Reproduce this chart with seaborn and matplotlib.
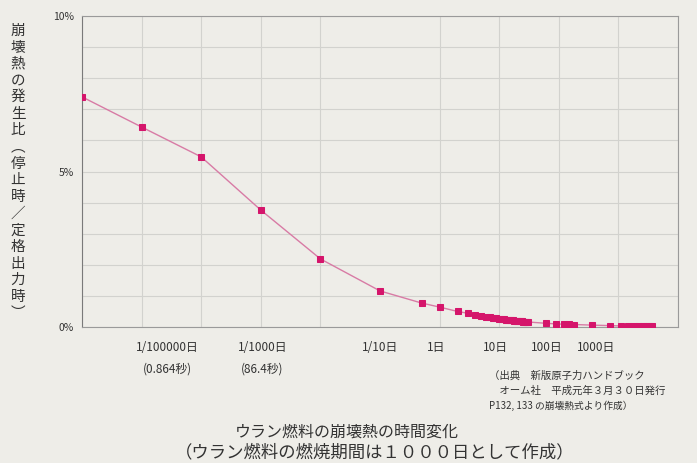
import matplotlib
matplotlib.use("Agg")
import matplotlib.pyplot as plt
import seaborn as sns
import pandas as pd
from matplotlib.ticker import FixedLocator, NullFormatter

# time after shutdown (days) and decay heat ratio (%)
days = [0.000001, 0.00001, 0.0001, 0.001, 0.01, 0.1, 0.5,
        1, 2, 3, 4, 5, 6, 7, 8, 9, 10,
        11, 12, 13, 14, 15, 16, 17, 18, 19, 20,
        21, 22, 23, 24, 25, 26, 27, 28, 29, 30,
        60, 90, 120, 150, 180,
        365, 730, 1095, 1460, 1825, 2190, 2555, 2920, 3285, 3650]
ratio = [7.40, 6.43, 5.47, 3.76, 2.19, 1.16, 0.77,
         0.64, 0.50, 0.44, 0.39, 0.35, 0.33, 0.31, 0.29, 0.28, 0.27,
         0.26, 0.25, 0.24, 0.23, 0.22, 0.215, 0.21, 0.205, 0.20, 0.195,
         0.19, 0.185, 0.18, 0.178, 0.175, 0.172, 0.17, 0.167, 0.165, 0.162,
         0.12, 0.10, 0.09, 0.085, 0.08,
         0.06, 0.045, 0.035, 0.03, 0.028, 0.025, 0.023, 0.022, 0.021, 0.02]

x_labels = ["1/100000日\n(0.864秒)", "1/1000日\n(86.4秒)", "1/10日", "1日",
            "10日", "100日", "1000日"]
x_label_at = [2.7e-5, 1.06e-3, 0.1, 0.89, 8.7, 63, 420]
decades = [1e-6, 1e-5, 1e-4, 1e-3, 1e-2, 1e-1, 1, 10, 100, 1000, 10000]
y_ticks = [0, 1, 2, 3, 4, 5, 6, 7, 8, 9, 10]
y_labels = ["0%", "", "", "", "", "5%", "", "", "", "", "10%"]

ylabel_text = "崩壊熱の発生比︵停止時／定格出力時︶"
title1 = "ウラン燃料の崩壊熱の時間変化"
title2 = "（ウラン燃料の燃焼期間は１０００日として作成）"
source_lines = ["（出典　新版原子力ハンドブック",
                "　オーム社　平成元年３月３０日発行",
                "P132, 133 の崩壊熱式より作成）"]

sns.set_theme(style="white")
plt.rcParams['font.family'] = ['Noto Sans CJK JP', 'DejaVu Sans']

paper = "#eeede8"
ink = "#333333"

df = pd.DataFrame({"days": days, "ratio": ratio})

fig = plt.figure(figsize=(6.97, 4.63), dpi=100, facecolor=paper)
ax = fig.add_axes([82 / 697, 1 - 327 / 463, 596 / 697, 311 / 463])
ax.set_facecolor(paper)

sns.lineplot(data=df, x="days", y="ratio", ax=ax, color="#d87ba5", linewidth=1.0,
             marker="s", markersize=5, markerfacecolor="#d5156b",
             markeredgecolor="#d5156b", zorder=3)

ax.set_xscale("log")
ax.set_xlim(1e-6, 1e4)
ax.set_ylim(0, 10)

ax.xaxis.set_minor_locator(FixedLocator(decades))
ax.xaxis.set_minor_formatter(NullFormatter())
ax.set_xticks(x_label_at)
ax.set_xticklabels(x_labels)
ax.set_yticks(y_ticks)
ax.set_yticklabels(y_labels)

ax.grid(False)
ax.grid(True, which="minor", axis="x", color="#d2d2ce", linewidth=0.8)
ax.grid(True, which="major", axis="y", color="#d2d2ce", linewidth=0.8)

ax.tick_params(axis="x", which="both", length=0, pad=10, labelsize=8.5, labelcolor=ink)
ax.tick_params(axis="y", length=0, pad=6, labelsize=7.5, labelcolor=ink)
for lab in ax.get_xticklabels() + ax.get_yticklabels():
    lab.set_linespacing(1.9)

for s in ax.spines.values():
    s.set_color("#9a9a9a")
    s.set_linewidth(0.8)
ax.spines["left"].set_color("#7a7a7a")

ax.set_xlabel("")
ax.set_ylabel("")

fig.text(18 / 697, 1 - 172 / 463, "\n".join(ylabel_text), ha="center", va="center",
         fontsize=10.5, color=ink, linespacing=1.24)

for i, line in enumerate(source_lines):
    fig.text(489 / 697, 1 - (376 + 15 * i) / 463, line, ha="left", va="center",
             fontsize=7.5 if i < 2 else 7, color=ink)

fig.text(347 / 697, 1 - 432 / 463, title1, ha="center", va="center",
         fontsize=11.5, color=ink)
fig.text(375 / 697, 1 - 452 / 463, title2, ha="center", va="center",
         fontsize=12.5, color=ink)

fig.savefig("out.png", dpi=100, facecolor=paper)
